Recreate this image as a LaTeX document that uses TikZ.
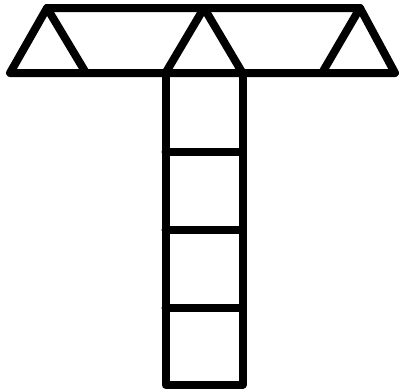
\documentclass[tikz,border=0pt]{standalone}
\usepackage{tikz}
\usetikzlibrary{calc}

\begin{document}
\begin{tikzpicture}[
    x=1pt, y=-1pt,
    bar/.style={line width=8pt, line join=round, line cap=round},
]
\useasboundingbox (0,0) rectangle (401,389);

% -------- TOP: triangle truss --------
\coordinate (tl) at (47, 8);
\coordinate (tm) at (204, 8);
\coordinate (tr) at (360, 8);
\coordinate (bl) at (10, 73);
\coordinate (br) at (395, 73);
\coordinate (cl) at (165.5, 73);
\coordinate (cr) at (242.5, 73);

\draw[bar] (tl) -- (tr) -- (br) -- (bl) -- cycle;

% inner triangles
\draw[bar] (tl) -- (86, 73);
\draw[bar] (cl) -- (tm) -- (cr);
\draw[bar] (tr) -- (322, 73);

% -------- BOTTOM: stacked squares --------
\coordinate (fl) at (165.5, 385);
\coordinate (fr) at (242.5, 385);
\draw[bar] (cl) -- (fl) -- (fr) -- (cr);
\foreach \y in {151.5, 229.75, 308}{
  \draw[bar] (165.5, \y) -- (242.5, \y);
}
\end{tikzpicture}
\end{document}
